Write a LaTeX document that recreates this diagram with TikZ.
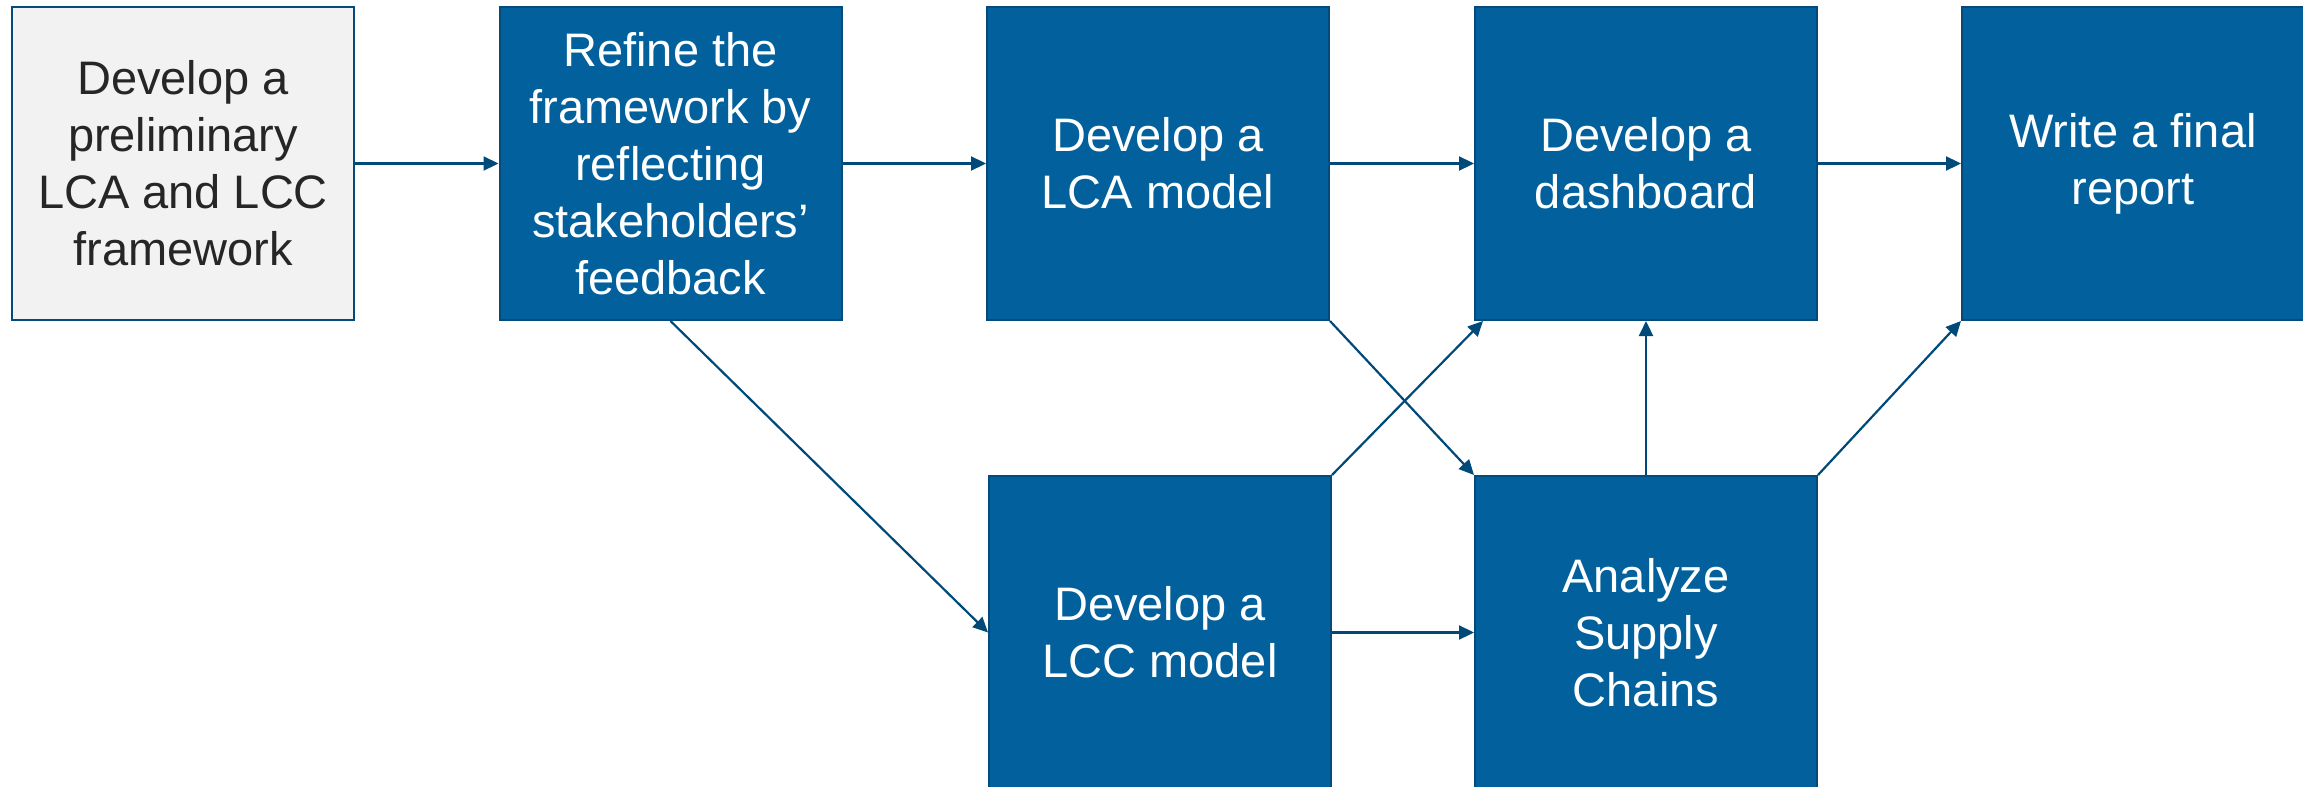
\documentclass[tikz,border=0pt]{standalone}
\usepackage{fontspec}
\setmainfont{Liberation Sans}
\usetikzlibrary{arrows.meta}
\definecolor{boxblue}{RGB}{2,97,156}
\definecolor{edgeblue}{RGB}{4,74,122}
\definecolor{arrowblue}{RGB}{0,74,122}
\definecolor{lightgray}{RGB}{242,242,242}
\definecolor{textgray}{RGB}{38,38,38}
\tikzset{
  stepbox/.style={rectangle, draw=edgeblue, line width=2pt, fill=boxblue,
    minimum width=342pt, minimum height=313pt, inner sep=0pt,
    text=white, align=center, font=\fontsize{47}{57}\selectfont},
  startbox/.style={stepbox, fill=lightgray, text=textgray},
  conn/.style={draw=arrowblue, line width=2.2pt,
    -{Triangle[length=15pt,width=14pt]}}
}
\begin{document}
\begin{tikzpicture}[x=1pt,y=-1pt]
\useasboundingbox (0,0) rectangle (2303,787);
\node[startbox] (b1) at (183,163.5) {Develop a\\preliminary\\LCA and LCC\\framework};
\node[stepbox] (b2) at (670.5,163.5) {Refine the\\framework by\\reflecting\\stakeholders’\\feedback};
\node[stepbox] (b3) at (1158,163.5) {Develop a\\LCA model};
\node[stepbox] (b4) at (1646,163.5) {Develop a\\dashboard};
\node[stepbox] (b5) at (2133,163.5) {Write a final\\report};
\node[stepbox] (b6) at (1160,632.5) {Develop a\\LCC model};
\node[stepbox] (b7) at (1646,632.5) {Analyze\\Supply\\Chains};
\draw[conn] (b1) -- (b2);
\draw[conn] (b2) -- (b3);
\draw[conn] (b3) -- (b4);
\draw[conn] (b4) -- (b5);
\draw[conn] (b2.south) -- (b6.west);
\draw[conn] (b3.south east) -- (b7.north west);
\draw[conn] (b6.north east) -- ([xshift=9pt]b4.south west);
\draw[conn] (b7.north) -- (b4.south);
\draw[conn] (b7.north east) -- (b5.south west);
\draw[conn] (b6.east) -- (b7.west);
\end{tikzpicture}
\end{document}
